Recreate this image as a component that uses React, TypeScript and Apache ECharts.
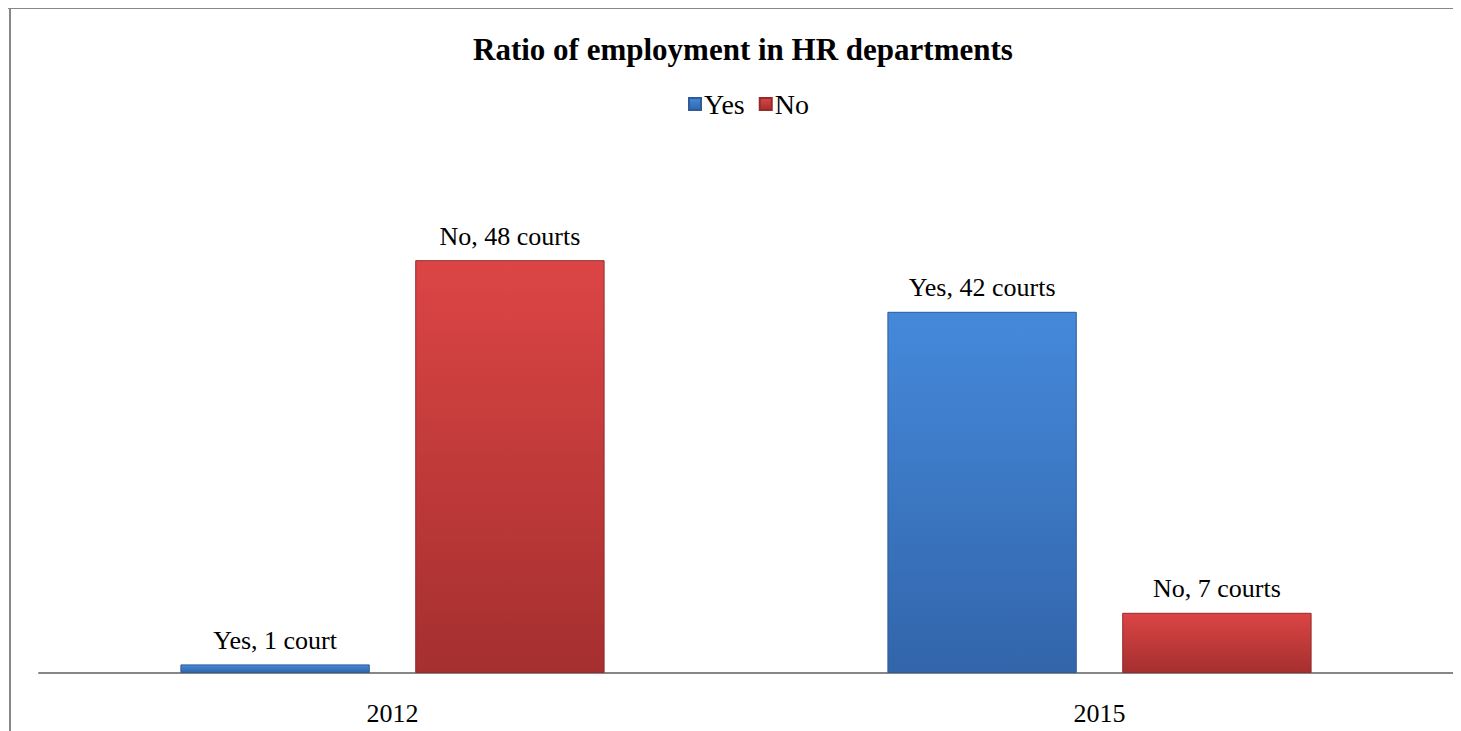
import React, { useEffect, useRef } from "react";
import * as echarts from "echarts";

const categories = ["2012", "2015"];
const yesValues = [1, 42];
const noValues = [48, 7];
const seriesNames = ["Yes", "No"];

const FONT = "'Liberation Serif', 'Times New Roman', serif";

function label(name: string, v: number) {
  return `${name}, ${v} court${v === 1 ? "" : "s"}`;
}

export default function App() {
  const ref = useRef<HTMLDivElement>(null);
  useEffect(() => {
    const chart = echarts.init(ref.current!, null, { renderer: "svg" });
    const blue = new echarts.graphic.LinearGradient(0, 0, 0, 1, [
      { offset: 0, color: "#4589db" },
      { offset: 1, color: "#3265aa" },
    ]);
    const red = new echarts.graphic.LinearGradient(0, 0, 0, 1, [
      { offset: 0, color: "#dc4545" },
      { offset: 1, color: "#a52f2f" },
    ]);
    const labelCfg = {
      show: true,
      position: "top" as const,
      distance: 11,
      color: "#000",
      fontFamily: FONT,
      fontSize: 26,
      formatter: (p: any) => label(p.seriesName, p.value),
    };
    chart.setOption({
      animation: false,
      backgroundColor: "#fff",
      title: {
        text: "Ratio of employment in HR departments",
        left: 465,
        top: 26,
        padding: 0,
        textStyle: { fontFamily: FONT, fontSize: 31, fontWeight: "bold", color: "#000" },
      },
      legend: {
        data: seriesNames,
        top: 82,
        left: 680,
        padding: 0,
        itemWidth: 12,
        itemHeight: 12,
        itemGap: 14,
        icon: "rect",
        textStyle: { fontFamily: FONT, fontSize: 28, color: "#000", padding: [0, 0, 0, -2] },
      },
      grid: { left: 31, right: 8, top: 149, bottom: 58 },
      xAxis: {
        type: "category",
        data: categories,
        axisLine: { lineStyle: { color: "#868686", width: 2 } },
        axisTick: { show: false },
        axisLabel: { fontFamily: FONT, fontSize: 26, color: "#000", margin: 27 },
      },
      yAxis: {
        type: "value",
        min: 0,
        max: 60,
        show: false,
        splitLine: { show: false },
      },
      series: [
        {
          name: seriesNames[0],
          type: "bar",
          data: yesValues,
          barGap: "24%",
          barCategoryGap: "40%",
          itemStyle: { color: blue, borderColor: "#2e5c9a", borderWidth: 1 },
          label: labelCfg,
        },
        {
          name: seriesNames[1],
          type: "bar",
          data: noValues,
          barGap: "24%",
          barCategoryGap: "40%",
          itemStyle: { color: red, borderColor: "#952a2a", borderWidth: 1 },
          label: labelCfg,
        },
      ],
      graphic: [
        { type: "line", shape: { x1: 0, y1: 0, x2: 1453, y2: 0 }, style: { stroke: "#888", lineWidth: 2 } },
        { type: "line", shape: { x1: 2, y1: 0, x2: 2, y2: 723 }, style: { stroke: "#888", lineWidth: 2 } },
      ],
    });
    return () => chart.dispose();
  }, []);
  return <div ref={ref} style={{ width: 1453, height: 723 }} />;
}
